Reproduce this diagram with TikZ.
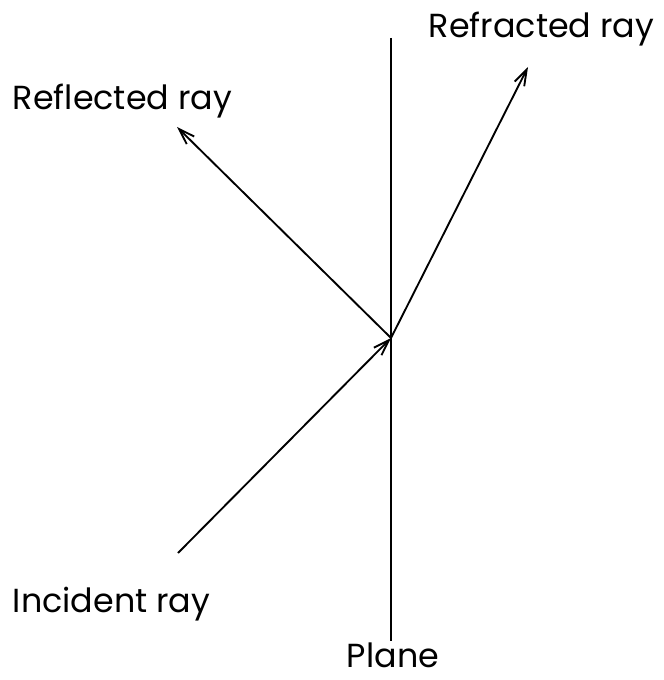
\documentclass[tikz,border=0pt]{standalone}
\usepackage{fontspec}
\setmainfont{Poppins}
\usetikzlibrary{arrows.meta}
\tikzset{
  every picture/.style={line width=1.4pt},
  lbl/.style={font=\fontsize{25}{29}\selectfont, inner sep=0pt},
  ray/.style={-{Straight Barb[length=12pt,width=8pt]}},
}
\begin{document}
\begin{tikzpicture}[x=0.75pt,y=-0.75pt]
\useasboundingbox (0,0) rectangle (663,680);

% the plane
\coordinate (top) at (391,38);
\coordinate (bot) at (391,641);
\coordinate (hit) at (391,338);
\draw (top) -- (bot);
\node[lbl, anchor=base] (plane) at (393,667) {Plane};

% rays
\coordinate (inc) at (178,553);
\coordinate (refl) at (177,127);
\coordinate (refr) at (528,67);
\draw[ray] (inc) -- (hit);
\draw[ray] (hit) -- (refl);
\draw[ray] (hit) -- (refr);

% labels
\node[lbl, anchor=base west] (lrefl) at (12,110) {Reflected ray};
\node[lbl, anchor=base west] (lrefr) at (428,38) {Refracted ray};
\node[lbl, anchor=base west] (linc) at (12,612) {Incident ray};

\end{tikzpicture}
\end{document}
